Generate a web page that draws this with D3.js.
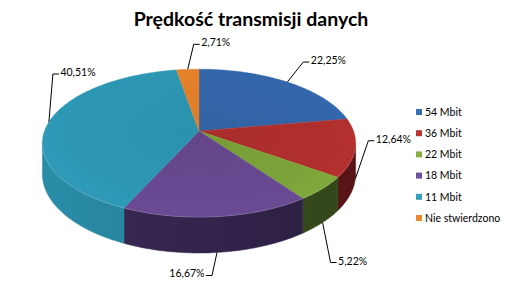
<!DOCTYPE html>
<html><head><meta charset="utf-8">
<script src="https://cdn.jsdelivr.net/npm/d3@7"></script>
<style>
html,body{margin:0;padding:0;background:#fff;}
svg{display:block;}
</style>
</head><body>
<svg id="chart" width="509" height="292"></svg>
<script>
// ---- data ----
const title = "Prędkość transmisji danych";
const categories = ["54 Mbit", "36 Mbit", "22 Mbit", "18 Mbit", "11 Mbit", "Nie stwierdzono"];
const values = [22.25, 12.64, 5.22, 16.67, 40.51, 2.71];

// ---- styles / layout ----
const topColors  = ["#3366AA", "#B02F2D", "#7CA33A", "#684890", "#2D97B3", "#E6822A"];
const sideLeft   = ["#2A5690", "#6E1C1E", "#41561F", "#3B2B57", "#2A8DA8", "#B8651F"];
const sideRight  = ["#22477A", "#571315", "#33461A", "#2A1E40", "#1D6F86", "#9A5219"];
const legendColors = ["#3A6FB3", "#B83431", "#86AE40", "#70509A", "#33A0BC", "#EC8A2F"];
// leader elbow offsets from anchor (layout only)
const leaderOffsets = [[16, -20], [13, -38], [8, 40], [-5, 23], [4, -48], [6, -25]];

const cx = 199, cy = 131, R = 154.5, Q = 72, k = 0.164, depth = 30;

const svg = d3.select("#chart");

function sc(a) { return 1 / (1 + k * Math.cos(a)); }
function proj(a, down) {
  const s = sc(a);
  return [cx + R * s * Math.sin(a), cy - Q * s * Math.cos(a) + (down ? depth * s : 0)];
}
function arcPts(a0, a1, down) {
  const n = Math.max(2, Math.ceil(Math.abs(a1 - a0) / 0.02));
  return d3.range(n + 1).map(i => proj(a0 + (a1 - a0) * i / n, down));
}

const pie = d3.pie().sort(null).value(d => d);
const arcs = pie(values);

const line = d3.line();
const defs = svg.append("defs");

arcs.forEach((d, i) => {
  const g = defs.append("linearGradient").attr("id", "side" + i)
    .attr("gradientUnits", "userSpaceOnUse")
    .attr("x1", cx - R).attr("x2", cx + R).attr("y1", 0).attr("y2", 0);
  g.append("stop").attr("offset", "0").attr("stop-color", sideLeft[i]);
  g.append("stop").attr("offset", "1").attr("stop-color", sideRight[i]);
  const t = defs.append("radialGradient").attr("id", "top" + i)
    .attr("gradientUnits", "userSpaceOnUse")
    .attr("cx", cx).attr("cy", cy).attr("r", R)
    .attr("gradientTransform", `translate(${cx},${cy}) scale(1,${Q / R * 1.1}) translate(${-cx},${-cy})`);
  const c = d3.color(topColors[i]);
  t.append("stop").attr("offset", "0").attr("stop-color", c.darker(0.12));
  t.append("stop").attr("offset", "0.85").attr("stop-color", c);
  t.append("stop").attr("offset", "1").attr("stop-color", c.brighter(0.06));
});

const aL = Math.acos(-k), aR = 2 * Math.PI - Math.acos(-k);

const gSide = svg.append("g");
arcs.forEach((d, i) => {
  const s0 = Math.max(d.startAngle, aL), s1 = Math.min(d.endAngle, aR);
  if (s1 <= s0) return;
  const pts = arcPts(s0, s1, false).concat(arcPts(s1, s0, true));
  gSide.append("path").attr("d", line(pts) + "Z")
    .attr("fill", `url(#side${i})`).attr("stroke", `url(#side${i})`).attr("stroke-width", 0.5);
});

const gTop = svg.append("g");
arcs.forEach((d, i) => {
  const pts = [[cx, cy]].concat(arcPts(d.startAngle, d.endAngle, false));
  gTop.append("path").attr("d", line(pts) + "Z")
    .attr("fill", `url(#top${i})`).attr("stroke", topColors[i]).attr("stroke-width", 0.4);
});
svg.append("path").attr("d", line(arcPts(aL, aR, false)))
  .attr("fill", "none").attr("stroke", "#fff").attr("stroke-opacity", 0.15).attr("stroke-width", 1);

const fmt = v => d3.format(".2f")(v).replace(".", ",") + "%";
const gLab = svg.append("g");
arcs.forEach((d, i) => {
  const m = (d.startAngle + d.endAngle) / 2;
  const front = Math.cos(m) < 0;
  const p0 = proj(m, front);
  const off = leaderOffsets[i];
  const p1 = [p0[0] + off[0], p0[1] + off[1]];
  const right = off[0] >= 0;
  const dx = right ? 1 : -1;
  const p2 = [p1[0] + dx * 6, p1[1]];
  gLab.append("path").attr("d", line([p0, p1, p2]))
    .attr("fill", "none").attr("stroke", "#000").attr("stroke-width", 1);
  gLab.append("text")
    .attr("x", p2[0] + dx * 1.5).attr("y", p1[1] + 2)
    .attr("text-anchor", right ? "start" : "end")
    .attr("font-family", "Lato, 'Open Sans', sans-serif").attr("font-size", 10.5)
    .attr("fill", "#000").text(fmt(values[i]));
});

svg.append("text").attr("x", 251).attr("y", 26).attr("text-anchor", "middle")
  .attr("font-family", "Lato, 'Open Sans', sans-serif").attr("font-weight", "bold")
  .attr("font-size", 19.5).attr("fill", "#000").text(title);

const ly = d3.scalePoint().domain(categories).range([112, 218]);
const gLeg = svg.append("g");
categories.forEach((c, i) => {
  gLeg.append("rect").attr("x", 416).attr("y", ly(c) - 3).attr("width", 6).attr("height", 6)
    .attr("fill", legendColors[i]);
  gLeg.append("text").attr("x", 425).attr("y", ly(c) + 3.8)
    .attr("font-family", "Lato, 'Open Sans', sans-serif").attr("font-size", 10.5)
    .attr("fill", "#000").text(c);
});
</script>
</body></html>
